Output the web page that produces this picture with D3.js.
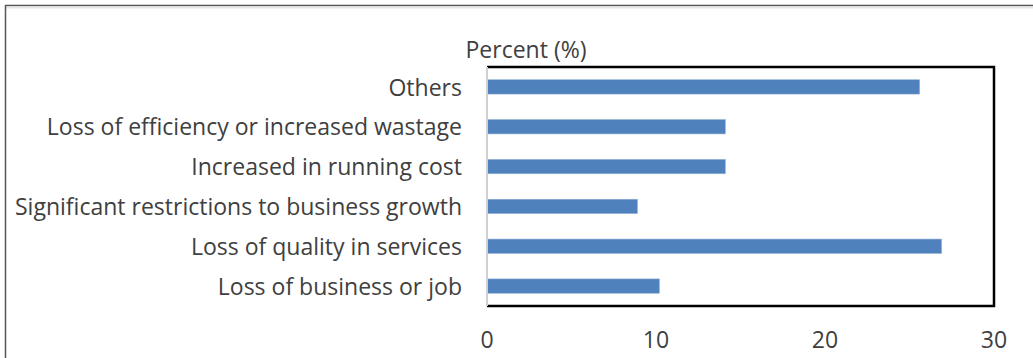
<!DOCTYPE html>
<html>
<head>
<meta charset="utf-8">
<script src="https://cdn.jsdelivr.net/npm/d3@7"></script>
<style>
  html, body { margin: 0; padding: 0; background: #fff; }
  svg { display: block; }
  text { font-family: "Open Sans", Lato, sans-serif; fill: #404040; }
</style>
</head>
<body>
<svg id="chart" width="1033" height="358"></svg>
<script>
// Reasons and their share of responses, listed top to bottom
const categories = [
  "Others",
  "Loss of efficiency or increased wastage",
  "Increased in running cost",
  "Significant restrictions to business growth",
  "Loss of quality in services",
  "Loss of business or job"
];
const percentValues = [25.6, 14.1, 14.1, 8.9, 26.9, 10.2];
const xTicks = [0, 10, 20, 30];
const axisTitle = "Percent (%)";

const svg = d3.select("#chart");
const W = 1033, H = 358;
const FONT = 23.5, STRETCH = 0.98;

// Outer frame (top and left edges visible)
svg.append("line").attr("x1", 5).attr("x2", W).attr("y1", 5.5).attr("y2", 5.5)
  .attr("stroke", "#555").attr("stroke-width", 1.5);
svg.append("line").attr("x1", 5).attr("x2", W).attr("y1", 7.5).attr("y2", 7.5)
  .attr("stroke", "#e6e6e6").attr("stroke-width", 2);
svg.append("line").attr("x1", 5.5).attr("x2", 5.5).attr("y1", 5).attr("y2", H)
  .attr("stroke", "#555").attr("stroke-width", 1.5);

const plot = { left: 487, right: 994, top: 67, bottom: 306 };

const x = d3.scaleLinear().domain([0, 30]).range([plot.left, plot.right]);
const y = d3.scaleBand().domain(categories).range([plot.top, plot.bottom])
  .paddingInner(0.64).paddingOuter(0.32);

// Bars
svg.append("g").selectAll("rect")
  .data(categories)
  .join("rect")
  .attr("x", x(0))
  .attr("y", d => y(d))
  .attr("width", (d, i) => x(percentValues[i]) - x(0))
  .attr("height", y.bandwidth())
  .attr("fill", "#4f81bd")
  .attr("stroke", "#8fb0d8")
  .attr("stroke-width", 0.6);

// Plot area border
svg.append("path")
  .attr("d", `M${plot.left},${plot.top}H${plot.right}V${plot.bottom}H${plot.left}`)
  .attr("fill", "none").attr("stroke", "#000").attr("stroke-width", 2.5);
svg.append("line")
  .attr("x1", plot.left).attr("x2", plot.left)
  .attr("y1", plot.top).attr("y2", plot.bottom)
  .attr("stroke", "#d0d0d0").attr("stroke-width", 2);

// Category labels, right-aligned beside the plot
svg.append("g").selectAll("text")
  .data(categories)
  .join("text")
  .attr("transform", d => `translate(${plot.left - 25},${y(d) + y.bandwidth() / 2}) scale(${STRETCH},1)`)
  .attr("text-anchor", "end")
  .attr("dy", "0.37em")
  .style("font-size", FONT + "px")
  .text(d => d);

// Value axis tick labels
svg.append("g").selectAll("text")
  .data(xTicks)
  .join("text")
  .attr("transform", d => `translate(${x(d)},${plot.bottom + 42}) scale(${STRETCH},1)`)
  .attr("text-anchor", "middle")
  .style("font-size", FONT + "px")
  .text(d => d);

// Axis title
svg.append("text")
  .attr("transform", `translate(526,58) scale(${STRETCH},1)`)
  .attr("text-anchor", "middle")
  .style("font-size", "23.5px")
  .text(axisTitle);
</script>
</body>
</html>
